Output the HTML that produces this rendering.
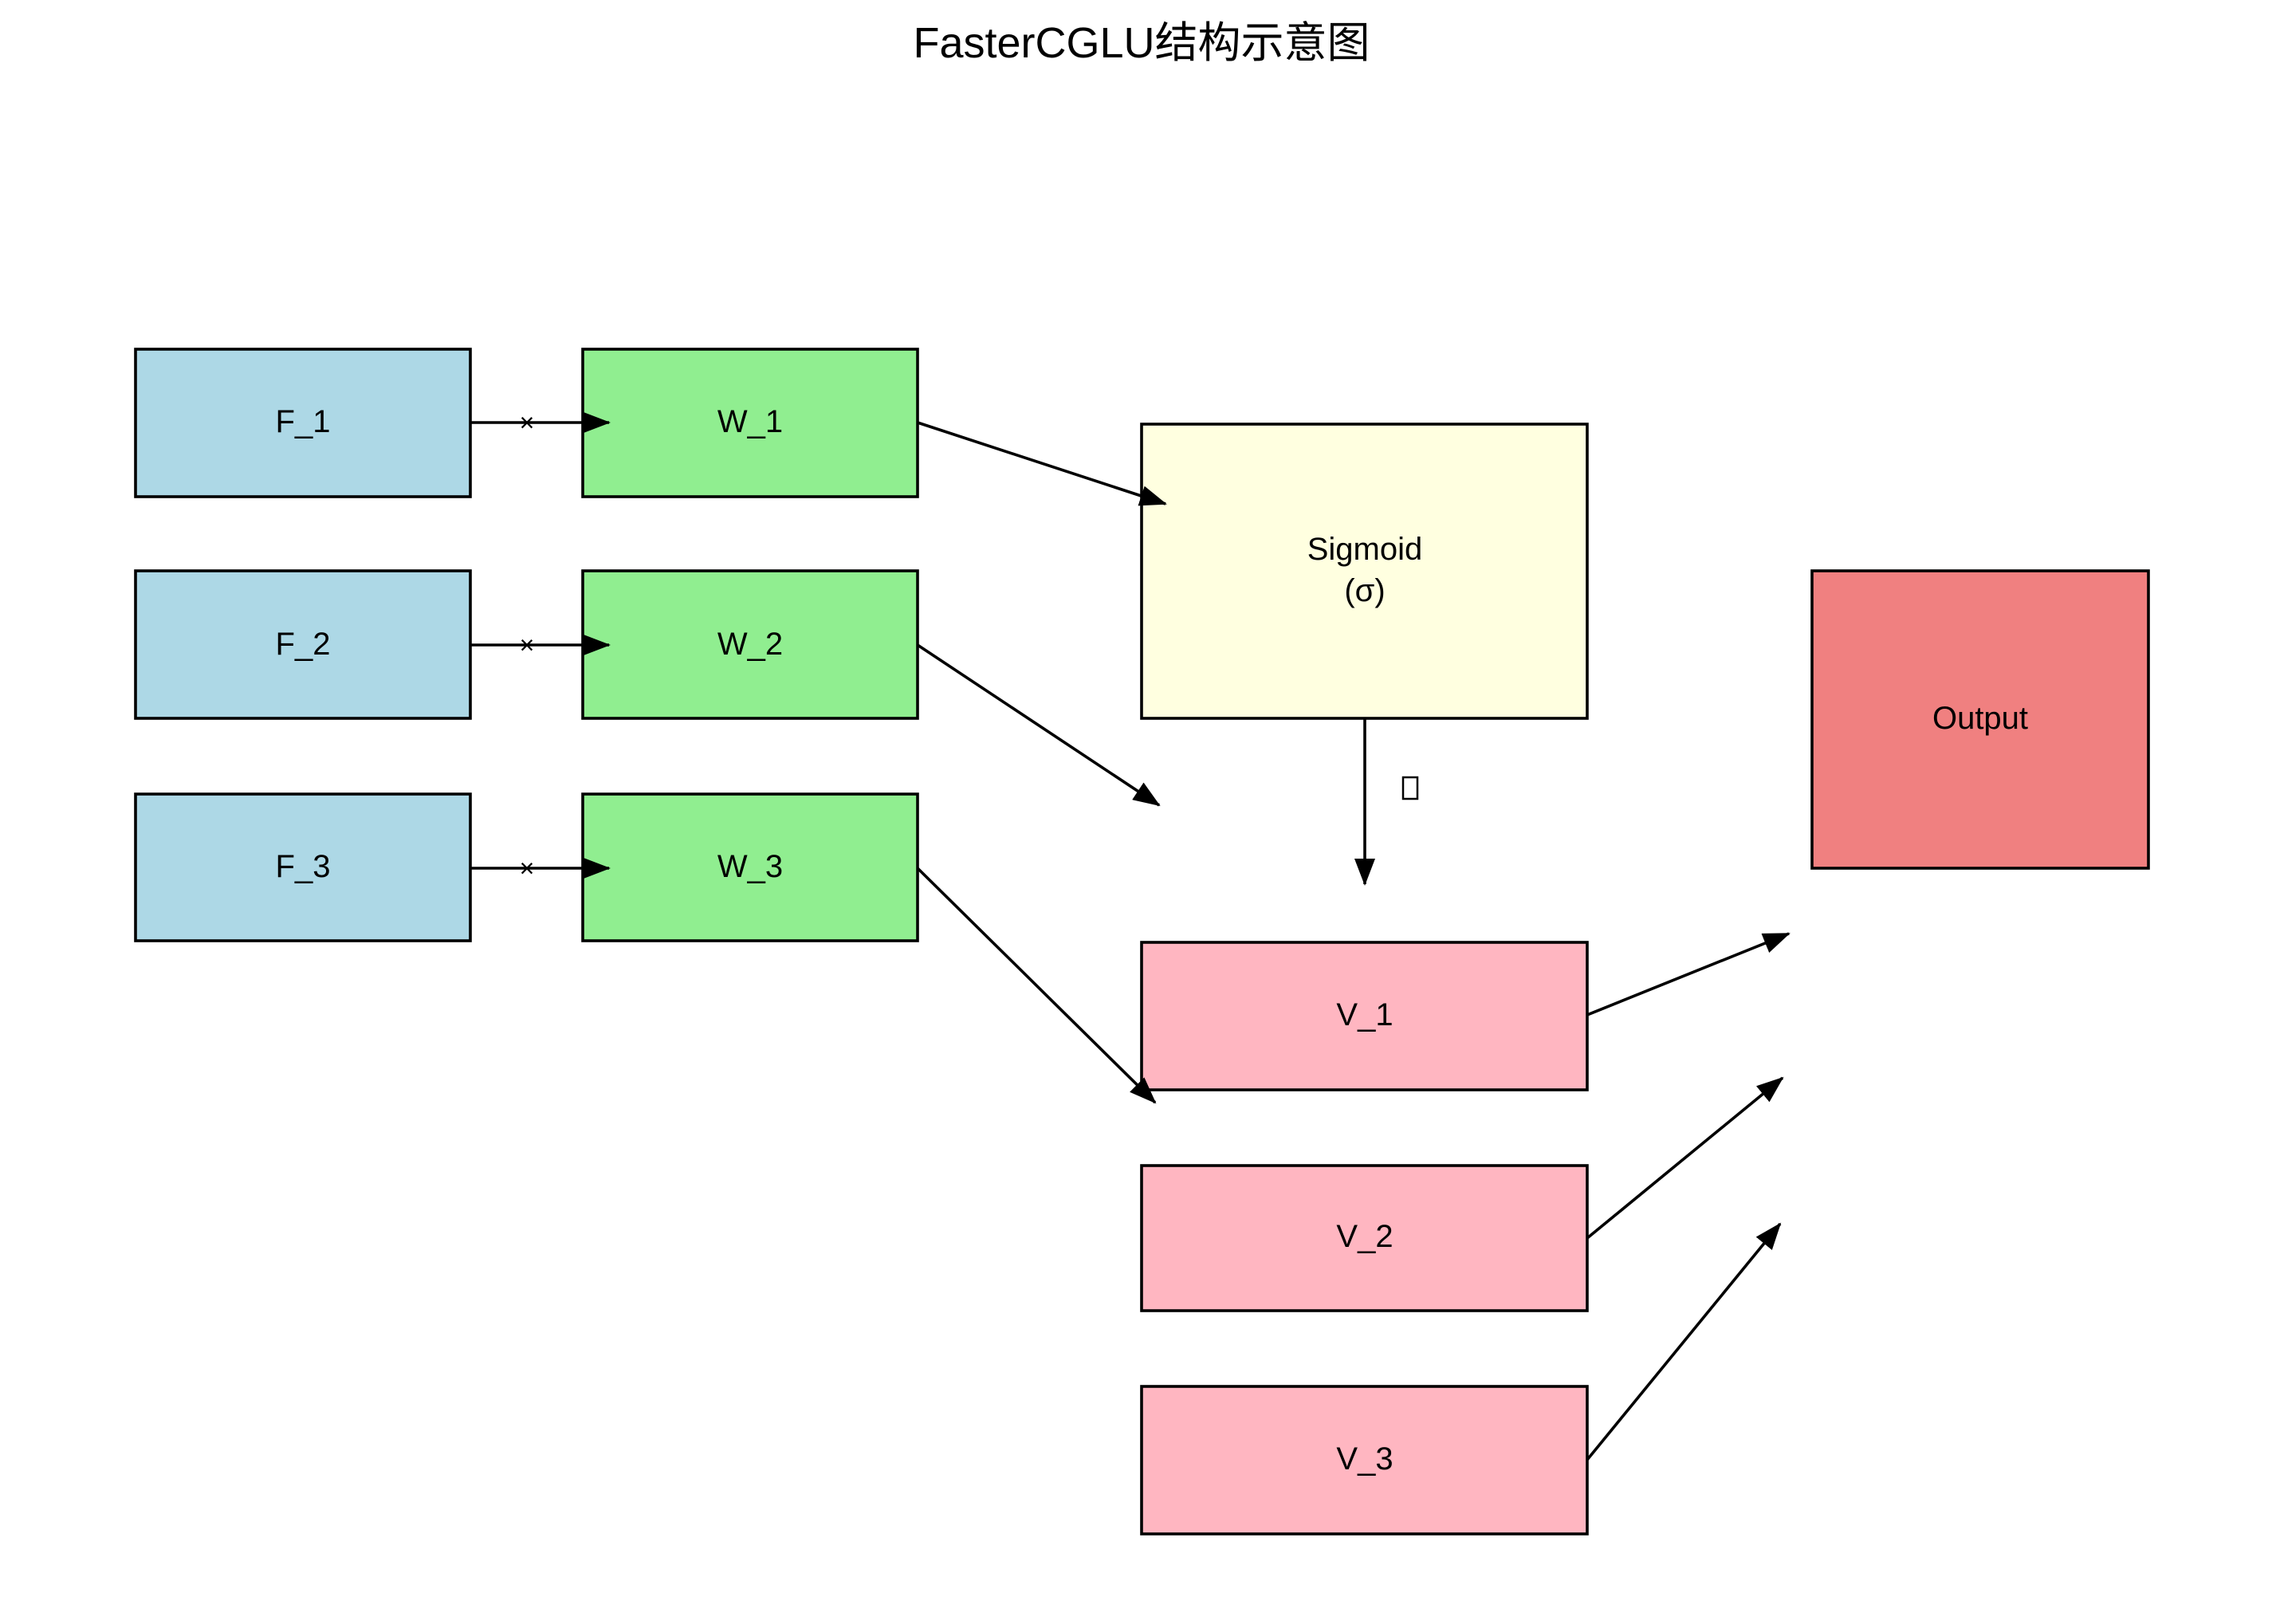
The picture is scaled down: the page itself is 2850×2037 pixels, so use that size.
<!DOCTYPE html>
<html><head><meta charset="utf-8"><style>
html,body{margin:0;padding:0;background:#fff;}
svg{display:block;}
text{font-family:"Liberation Sans","Noto Sans CJK SC",sans-serif;fill:#000;}
</style></head><body>
<svg width="2850" height="2037" viewBox="0 0 2850 2037" xmlns="http://www.w3.org/2000/svg">
<defs>
<marker id="a" markerUnits="userSpaceOnUse" markerWidth="34" markerHeight="26" refX="32" refY="13" orient="auto">
<path d="M0,0 L34,13 L0,26 Z" fill="#000"/>
</marker>
</defs>
<text x="1432" y="72" font-size="54" text-anchor="middle">FasterCGLU结构示意图</text>
<g stroke="#000" stroke-width="3.6">
<rect x="170" y="438" width="420" height="185" fill="#add8e6"/>
<rect x="170" y="716" width="420" height="185" fill="#add8e6"/>
<rect x="170" y="996" width="420" height="184" fill="#add8e6"/>
<rect x="731" y="438" width="420" height="185" fill="#90ee90"/>
<rect x="731" y="716" width="420" height="185" fill="#90ee90"/>
<rect x="731" y="996" width="420" height="184" fill="#90ee90"/>
<rect x="1432" y="532" width="559" height="369" fill="#ffffe0"/>
<rect x="2273" y="716" width="422" height="373" fill="#f08080"/>
<rect x="1432" y="1182" width="559" height="185" fill="#ffb6c1"/>
<rect x="1432" y="1462" width="559" height="182" fill="#ffb6c1"/>
<rect x="1432" y="1739" width="559" height="185" fill="#ffb6c1"/>
</g>
<g stroke="#000" stroke-width="3.6" fill="none" marker-end="url(#a)">
<line x1="590" y1="530" x2="764" y2="530"/>
<line x1="590" y1="809" x2="764" y2="809"/>
<line x1="590" y1="1089" x2="764" y2="1089"/>
<line x1="1151" y1="530" x2="1462" y2="632"/>
<line x1="1151" y1="809" x2="1454" y2="1010"/>
<line x1="1151" y1="1089" x2="1449" y2="1383"/>
<line x1="1712" y1="901" x2="1712" y2="1109"/>
<line x1="1991" y1="1273" x2="2244" y2="1171"/>
<line x1="1991" y1="1553" x2="2236" y2="1352"/>
<line x1="1991" y1="1831" x2="2233" y2="1535"/>
</g>
<g font-size="40" text-anchor="middle">
<text x="380" y="542">F_1</text>
<text x="380" y="821">F_2</text>
<text x="380" y="1100">F_3</text>
<text x="941" y="542">W_1</text>
<text x="941" y="821">W_2</text>
<text x="941" y="1100">W_3</text>
<text x="1712" y="702">Sigmoid</text>
<text x="1712" y="754">(σ)</text>
<text x="2484" y="914">Output</text>
<text x="1712" y="1286">V_1</text>
<text x="1712" y="1564">V_2</text>
<text x="1712" y="1843">V_3</text>
</g>
<g font-size="32" text-anchor="middle">
<text x="661" y="541">×</text>
<text x="661" y="820">×</text>
<text x="661" y="1100">×</text>
</g>
<rect x="1760" y="975" width="18" height="27" fill="none" stroke="#000" stroke-width="2.5"/>
</svg>
</body></html>
